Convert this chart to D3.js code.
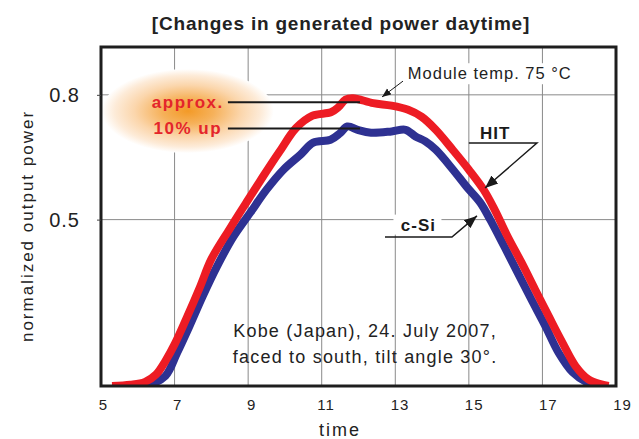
<!DOCTYPE html>
<html><head><meta charset="utf-8">
<script src="https://cdn.jsdelivr.net/npm/d3@7"></script>
<style>
html,body{margin:0;padding:0;background:#fff;}
svg{display:block;font-family:"Liberation Sans",Arial,sans-serif;}
</style></head><body>
<svg id="chart" width="639" height="439"></svg>
<script>
// ---- data ----
const hitHours  = [5.3,5.8,6.2,6.5,6.75,7.0,7.35,7.7,8.0,8.5,8.95,9.4,9.85,10.3,10.75,11.25,11.45,11.65,11.85,12.4,12.9,13.35,13.72,14.1,14.56,15.0,15.4,15.7,16.05,16.43,16.8,17.17,17.54,17.9,18.25,18.6,18.8];
const hitValues = [0.1,0.103,0.11,0.128,0.16,0.2,0.268,0.34,0.405,0.478,0.541,0.603,0.663,0.72,0.75,0.758,0.77,0.789,0.792,0.78,0.774,0.764,0.747,0.716,0.668,0.62,0.572,0.524,0.46,0.397,0.332,0.268,0.205,0.148,0.116,0.104,0.1];
const csiHours  = [5.8,6.3,6.75,7.07,7.4,7.76,8.15,8.6,9.06,9.5,9.96,10.42,10.77,11.24,11.5,11.7,12.0,12.34,12.9,13.28,13.55,13.82,14.1,14.57,14.93,15.31,15.58,15.96,16.33,16.7,17.08,17.44,17.82,18.2,18.5];
const csiValues = [0.1,0.103,0.124,0.18,0.243,0.315,0.387,0.459,0.517,0.572,0.62,0.656,0.685,0.692,0.708,0.724,0.715,0.709,0.712,0.716,0.70,0.688,0.668,0.62,0.58,0.541,0.5,0.436,0.372,0.308,0.244,0.18,0.133,0.109,0.1];
const xTicks = [5,7,9,11,13,15,17,19];
const xGrid = [7,9,11,13,15,17];
const yTicks = [0.5,0.8];
const xDomain = [5,19];
const yDomain = [0.1,0.915];
const title = "[Changes in generated power daytime]";
const xTitle = "time";
const yTitle = "normalized output power";
const noteLines = ["Kobe (Japan), 24. July 2007,", "faced to south, tilt angle 30°."];

// ---- layout ----
const L = 101, R = 616, T = 47, B = 386;
const svg = d3.select("#chart");
const x = d3.scaleLinear().domain(xDomain).range([L, R]);
const xLab = d3.scaleLinear().domain(xDomain).range([103, 622]);
const y = d3.scaleLinear().domain(yDomain).range([B, T]);

const defs = svg.append("defs");
const grad = defs.append("radialGradient").attr("id","glow").attr("cx","50%").attr("cy","50%").attr("r","50%");
[[0,"#f39a27",1],[0.3,"#f6b15a",1],[0.62,"#fbd6ac",1],[0.85,"#fdebd8",1],[1,"#ffffff",1]].forEach(s=>
  grad.append("stop").attr("offset",s[0]).attr("stop-color",s[1]).attr("stop-opacity",s[2]));
defs.append("clipPath").attr("id","plotclip").append("rect")
  .attr("x",L).attr("y",T).attr("width",R-L).attr("height",B-T);
function marker(id, size){
  defs.append("marker").attr("id",id).attr("viewBox","0 0 10 10").attr("refX",10).attr("refY",5)
    .attr("markerWidth",size).attr("markerHeight",size).attr("orient","auto").attr("markerUnits","userSpaceOnUse")
    .append("path").attr("d","M0,1 L10,5 L0,9 Z").attr("fill","#1a1a1a");
}
marker("arrowBig", 13);
marker("arrowSmall", 9);

// title
svg.append("text").attr("x",341).attr("y",30).attr("text-anchor","middle")
  .attr("font-size",19).attr("font-weight","bold").attr("letter-spacing",0.8).attr("fill","#222").text(title);

// grid
svg.append("g").selectAll("line").data(xGrid).join("line")
  .attr("x1",d=>x(d)).attr("x2",d=>x(d)).attr("y1",T).attr("y2",B)
  .attr("stroke","#8a8a8a").attr("stroke-width",1);
svg.append("g").selectAll("line").data(yTicks).join("line")
  .attr("x1",L).attr("x2",R).attr("y1",d=>y(d)).attr("y2",d=>y(d))
  .attr("stroke","#8a8a8a").attr("stroke-width",1);

// glow ellipse
svg.append("ellipse").attr("cx",x(7.36)).attr("cy",y(0.761)).attr("rx",86).attr("ry",42).attr("fill","url(#glow)");

// curves
const line = d3.line().x(d=>x(d[0])).y(d=>y(d[1])).curve(d3.curveCatmullRom.alpha(0.5));
const g = svg.append("g").attr("clip-path","url(#plotclip)");
g.append("path").datum(d3.zip(csiHours,csiValues)).attr("d",line)
  .attr("fill","none").attr("stroke","#2e3192").attr("stroke-width",8);
g.append("path").datum(d3.zip(hitHours,hitValues)).attr("d",line)
  .attr("fill","none").attr("stroke","#ed1c24").attr("stroke-width",8);

// frame
svg.append("rect").attr("x",L).attr("y",T).attr("width",R-L).attr("height",B-T)
  .attr("fill","none").attr("stroke","#1e1e1e").attr("stroke-width",3);

// axes
const xa = svg.append("g").attr("transform",`translate(0,${B})`)
  .call(d3.axisBottom(xLab).tickValues(xTicks).tickFormat(d3.format("d")).tickSize(0).tickPadding(13));
xa.select(".domain").remove();
xa.selectAll("text").attr("font-size",15).attr("letter-spacing",1).attr("fill","#222").attr("font-family","Liberation Sans, Arial, sans-serif");

const ya = svg.append("g").attr("transform",`translate(${L},0)`)
  .call(d3.axisLeft(y).tickValues(yTicks).tickFormat(d3.format(".1f")).tickSize(4).tickPadding(17));
ya.select(".domain").remove();
ya.selectAll("line").attr("stroke","#444");
ya.selectAll("text").attr("font-size",20).attr("letter-spacing",1).attr("fill","#222").attr("font-family","Liberation Sans, Arial, sans-serif");

svg.append("text").attr("x",340).attr("y",436).attr("text-anchor","middle")
  .attr("font-size",18).attr("letter-spacing",2).attr("fill","#222").text(xTitle);
svg.append("text").attr("transform","translate(33,226) rotate(-90)").attr("text-anchor","middle")
  .attr("font-size",17).attr("letter-spacing",2).attr("fill","#222").text(yTitle);

// annotations
const red = "#e4252b";
svg.append("text").attr("x",x(7.36)).attr("y",y(0.782)).attr("dy","0.33em").attr("text-anchor","middle")
  .attr("font-size",17).attr("font-weight","bold").attr("letter-spacing",1.5).attr("fill",red).text("approx.");
svg.append("text").attr("x",x(7.36)).attr("y",y(0.719)).attr("dy","0.33em").attr("text-anchor","middle")
  .attr("font-size",17).attr("font-weight","bold").attr("letter-spacing",1.5).attr("fill",red).text("10% up");
[0.782,0.719].forEach(v=>{
  svg.append("line").attr("x1",x(8.45)).attr("x2",x(12.04)).attr("y1",y(v)).attr("y2",y(v))
    .attr("stroke","#1a1a1a").attr("stroke-width",2);
});

// module temp
svg.append("rect").attr("x",x(13.25)).attr("y",y(0.876)).attr("width",172).attr("height",21).attr("fill","#fff");
svg.append("text").attr("x",x(13.34)).attr("y",y(0.838)).attr("font-size",16.5).attr("letter-spacing",1)
  .attr("fill","#222").text("Module temp. 75 °C");
svg.append("line").attr("x1",x(13.21)).attr("y1",y(0.833)).attr("x2",x(12.64)).attr("y2",y(0.795))
  .attr("stroke","#1a1a1a").attr("stroke-width",1).attr("marker-end","url(#arrowSmall)");

// HIT
svg.append("rect").attr("x",x(15.1)).attr("y",y(0.735)).attr("width",42).attr("height",18).attr("fill","#fff");
svg.append("text").attr("x",x(15.3)).attr("y",y(0.694)).attr("font-size",17).attr("font-weight","bold").attr("letter-spacing",1)
  .attr("fill","#1a1a1a").text("HIT");
svg.append("polyline").attr("points",[[x(15.0),y(0.684)],[x(16.85),y(0.684)],[x(15.44),y(0.576)]].map(p=>p.join(",")).join(" "))
  .attr("fill","none").attr("stroke","#1a1a1a").attr("stroke-width",1.5).attr("marker-end","url(#arrowBig)");

// c-Si
svg.append("rect").attr("x",x(12.95)).attr("y",y(0.512)).attr("width",48).attr("height",20).attr("fill","#fff");
svg.append("text").attr("x",x(13.15)).attr("y",y(0.473)).attr("font-size",17).attr("font-weight","bold").attr("letter-spacing",1)
  .attr("fill","#1a1a1a").text("c-Si");
svg.append("polyline").attr("points",[[x(12.72),y(0.458)],[x(14.54),y(0.458)],[x(15.22),y(0.509)]].map(p=>p.join(",")).join(" "))
  .attr("fill","none").attr("stroke","#1a1a1a").attr("stroke-width",1.5).attr("marker-end","url(#arrowBig)");

// location note
svg.append("g").selectAll("text").data(noteLines).join("text")
  .attr("x",x(12.18)).attr("y",(d,i)=>y([0.218,0.155][i])).attr("text-anchor","middle")
  .attr("font-size",18).attr("letter-spacing",1.2).attr("fill","#222").text(d=>d);
</script>
</body></html>
